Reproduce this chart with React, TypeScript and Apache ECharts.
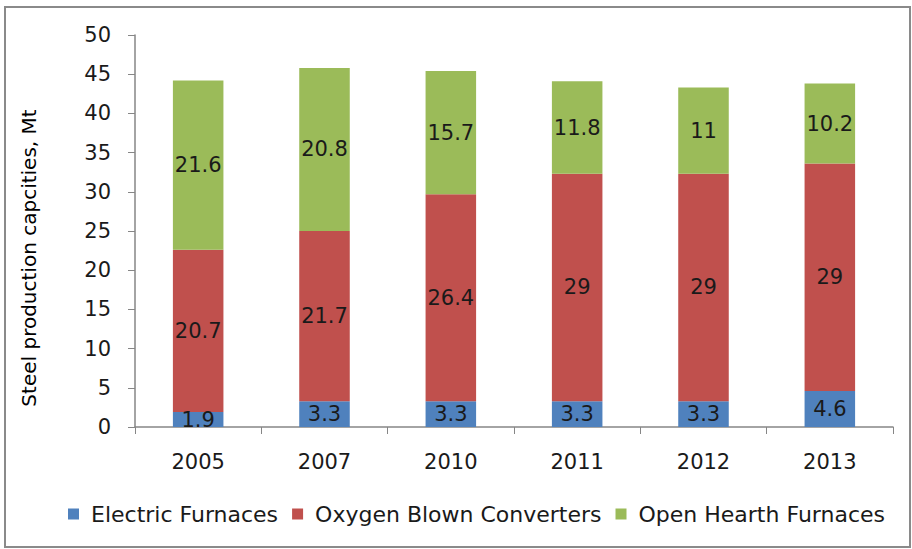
import React, { useEffect, useRef } from "react";
import * as echarts from "echarts";

const years = ["2005", "2007", "2010", "2011", "2012", "2013"];
const electric = [1.9, 3.3, 3.3, 3.3, 3.3, 4.6];
const oxygen = [20.7, 21.7, 26.4, 29, 29, 29];
const openHearth = [21.6, 20.8, 15.7, 11.8, 11, 10.2];
const seriesNames = ["Electric Furnaces", "Oxygen Blown Converters", "Open Hearth Furnaces"];
const yAxisTitle = "Steel production capcities, Mt";

const FONT = "DejaVu Sans";

export default function App() {
  const ref = useRef<HTMLDivElement>(null);
  useEffect(() => {
    document.body.style.margin = "0";
    const chart = echarts.init(ref.current!, null, { renderer: "svg" });
    const label = {
      show: true,
      position: "inside",
      color: "#1a1a1a",
      fontFamily: FONT,
      fontSize: 21,
    };
    const mk = (name: string, data: number[], color: string) => ({
      name,
      type: "bar",
      stack: "total",
      data,
      barWidth: "40%",
      itemStyle: { color },
      label,
    });
    chart.setOption({
      animation: false,
      backgroundColor: "#ffffff",
      textStyle: { fontFamily: FONT },
      grid: { left: 135, right: 19, top: 35, bottom: 122 },
      graphic: [
        {
          type: "rect",
          shape: { x: 5, y: 7, width: 905, height: 540 },
          style: { fill: "none", stroke: "#8a8a8a", lineWidth: 2 },
          silent: true,
        },
      ],
      legend: {
        top: 498,
        left: 63,
        itemWidth: 11,
        itemHeight: 11,
        itemGap: 14,
        icon: "rect",
        textStyle: { fontFamily: FONT, fontSize: 22, color: "#1a1a1a", padding: [0, 0, 0, 7] },
        data: seriesNames,
      },
      xAxis: {
        type: "category",
        data: years,
        axisLine: { lineStyle: { color: "#868686", width: 1.5 } },
        axisTick: { show: true, length: 7, lineStyle: { color: "#868686" } },
        axisLabel: { fontFamily: FONT, fontSize: 21, color: "#1a1a1a", margin: 24 },
      },
      yAxis: {
        type: "value",
        min: 0,
        max: 50,
        interval: 5,
        name: yAxisTitle,
        nameLocation: "middle",
        nameGap: 96,
        nameTextStyle: { fontFamily: FONT, fontSize: 20, color: "#000", padding: [0, 54, 0, 0] },
        axisLine: { show: true, lineStyle: { color: "#868686", width: 1.5 } },
        axisTick: { show: true, length: 7, lineStyle: { color: "#868686" } },
        splitLine: { show: false },
        axisLabel: { fontFamily: FONT, fontSize: 21, color: "#1a1a1a", margin: 24 },
      },
      series: [
        mk(seriesNames[0], electric, "#4F81BD"),
        mk(seriesNames[1], oxygen, "#C0504D"),
        mk(seriesNames[2], openHearth, "#9BBB59"),
      ],
    });
    return () => chart.dispose();
  }, []);
  return <div ref={ref} style={{ width: 912, height: 549 }} />;
}
